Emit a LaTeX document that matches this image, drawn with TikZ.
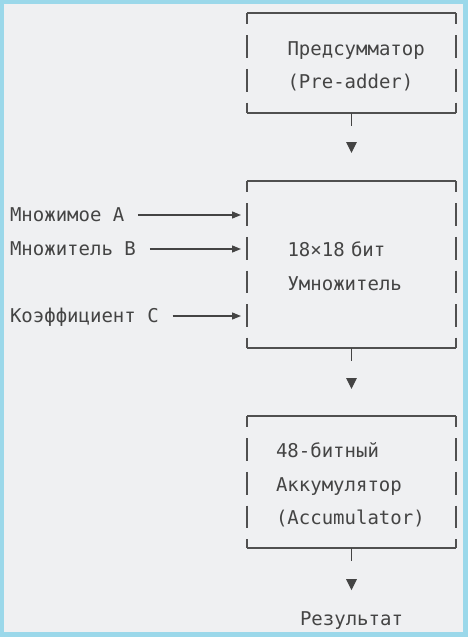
\documentclass[tikz,border=0pt]{standalone}
\usepackage{fontspec}
\usepackage{xcolor}
\usepackage{tikz}
\usetikzlibrary{arrows.meta, positioning, calc}
\newfontfamily\asciifont{DejaVu Sans Mono}
\definecolor{framecyan}{RGB}{155, 216, 234}
\definecolor{canvas}{RGB}{239, 240, 242}
\definecolor{inkgray}{RGB}{68, 68, 68}
\definecolor{linegray}{RGB}{80, 80, 80}
\newcommand{\rowstrut}{\rule[-6pt]{0pt}{30pt}}
\tikzset{
  asciifontset/.style={font=\asciifont\fontsize{19}{33.6}\selectfont},
  asciiblock/.style={
    rectangle, draw=none, inner sep=0pt, outer sep=0pt,
    asciifontset, text=inkgray, align=left,
    minimum width=209pt,
    execute at begin node=\rowstrut, execute at end node=\rowstrut
  },
  inputlabel/.style={
    inner sep=0pt, outer sep=0pt, asciifontset, text=inkgray,
    execute at begin node=\strut
  },
  edgeline/.style={draw=linegray, line width=1.2pt},
  sideline/.style={
    draw=linegray, line width=1.1pt,
    dash pattern=on 22.6pt off 11pt, dash phase=11.3pt
  },
  flowline/.style={
    draw=inkgray, line width=1.3pt, shorten >=6pt,
    -{Triangle[length=9pt, width=7pt]}
  },
  downline/.style={
    draw=inkgray, line width=1.2pt, dash pattern=on 13pt off 40pt,
    -{Triangle[length=11pt, width=10.5pt]}
  }
}

\begin{document}
\begin{tikzpicture}[x=1pt, y=1pt]

  % Frame
  \useasboundingbox (0,0) rectangle (468,-637);
  \fill[framecyan] (0,0) rectangle (468,-637);
  \fill[canvas] (4,-4.3) rectangle (463.3,-631.7);

  % Blocks
  \node[asciiblock, minimum height=100pt, text width=128pt] (pre) at (351.5,-63) {Предсумматор\\(Pre-adder)};
  \node[asciiblock, minimum height=167pt, text width=128pt] (mul) at (351.5,-264.5) {18×18 бит\\Умножитель};
  \node[asciiblock, minimum height=132pt, text width=151pt] (acc) at (351.5,-482) {48-битный\\Аккумулятор\\(Accumulator)};

  % Inputs and output
  \node[inputlabel, anchor=west] (opa) at (10,-215) {Множимое A};
  \node[inputlabel, anchor=west] (opb) at (10,-249) {Множитель B};
  \node[inputlabel, anchor=west] (opc) at (10,-316) {Коэффициент C};
  \node[inputlabel] (res) at (351.5,-619) {Результат};

  % Block outlines in the text-art manner
  \draw[edgeline] (pre.north west) -- (pre.north east) (pre.south west) -- (pre.south east);
  \draw[sideline] (pre.north west) -- (pre.south west) (pre.north east) -- (pre.south east);
  \draw[edgeline] (mul.north west) -- (mul.north east) (mul.south west) -- (mul.south east);
  \draw[sideline] (mul.north west) -- (mul.south west) (mul.north east) -- (mul.south east);
  \draw[edgeline] (acc.north west) -- (acc.north east) (acc.south west) -- (acc.south east);
  \draw[sideline] (acc.north west) -- (acc.south west) (acc.north east) -- (acc.south east);

  % Connectors
  \draw[flowline] ([xshift=13.5pt]opa.east) -- (opa.east -| mul.west);
  \draw[flowline] ([xshift=14pt]opb.east) -- (opb.east -| mul.west);
  \draw[flowline] ([xshift=14pt]opc.east) -- (opc.east -| mul.west);

  \draw[downline] (pre.south) -- ($(mul.north)+(0,28)$);
  \draw[downline] (mul.south) -- ($(acc.north)+(0,27)$);
  \draw[downline] (acc.south) -- ($(res.north)+(0,12)$);

\end{tikzpicture}
\end{document}
